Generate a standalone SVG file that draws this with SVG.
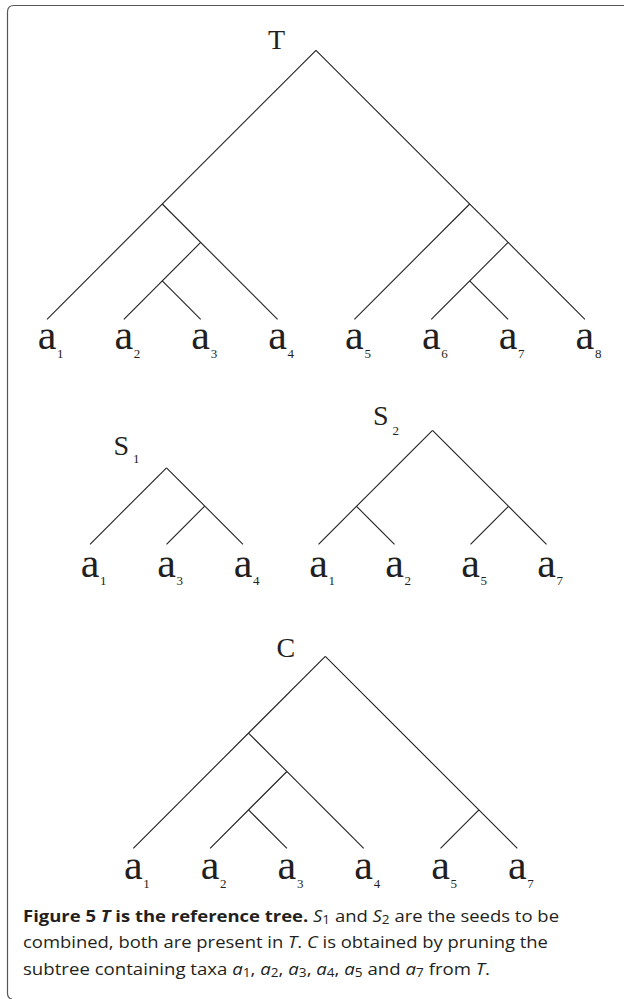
<svg xmlns="http://www.w3.org/2000/svg" width="624" height="999" viewBox="0 0 624 999">
<style>
.e{stroke:#231f20;stroke-width:1.1;fill:none;stroke-linecap:butt}
.lf{font-family:"Liberation Serif","Times New Roman",serif;font-size:42px;fill:#231f20;text-anchor:middle}
.sb{font-family:"Liberation Serif","Times New Roman",serif;font-size:13px;fill:#231f20}
.tl{font-family:"Liberation Serif","Times New Roman",serif;font-size:28px;fill:#231f20}
.cap{font-family:"Open Sans","Noto Sans","Liberation Sans",sans-serif;font-size:16.4px;fill:#231f20}
.b{font-weight:bold}
.i{font-style:italic}
.cs{font-size:12px}
</style>
<rect x="0" y="0" width="624" height="999" fill="#ffffff"/>
<g id="frame">
<path d="M624 5.5 H14 Q7.5 5.5 7.5 12 V993 Q7.5 998.5 12 999" fill="none" stroke="#555" stroke-width="1.2"/>
</g>
<g id="connectors">
<g id="edges-T">
<line class="e" x1="315.98" y1="50.3" x2="47" y2="319.3"/>
<line class="e" x1="315.98" y1="50.3" x2="584.95" y2="319.3"/>
<line class="e" x1="162.28" y1="204" x2="277.55" y2="319.3"/>
<line class="e" x1="200.7" y1="242.45" x2="123.85" y2="319.3"/>
<line class="e" x1="162.28" y1="280.88" x2="200.7" y2="319.3"/>
<line class="e" x1="469.68" y1="204" x2="354.4" y2="319.3"/>
<line class="e" x1="508.1" y1="242.45" x2="431.25" y2="319.3"/>
<line class="e" x1="469.68" y1="280.88" x2="508.1" y2="319.3"/>
</g>
<g id="edges-S1">
<line class="e" x1="166.5" y1="467.8" x2="90" y2="544.3"/>
<line class="e" x1="166.5" y1="467.8" x2="243" y2="544.3"/>
<line class="e" x1="204.75" y1="506.05" x2="166.5" y2="544.3"/>
</g>
<g id="edges-S2">
<line class="e" x1="432.5" y1="430.3" x2="318.5" y2="544.3"/>
<line class="e" x1="432.5" y1="430.3" x2="546.5" y2="544.3"/>
<line class="e" x1="356.5" y1="506.3" x2="394.5" y2="544.3"/>
<line class="e" x1="508.5" y1="506.3" x2="470.5" y2="544.3"/>
</g>
<g id="edges-C">
<line class="e" x1="325.3" y1="656.3" x2="133.3" y2="848.3"/>
<line class="e" x1="325.3" y1="656.3" x2="517.3" y2="848.3"/>
<line class="e" x1="248.5" y1="733.1" x2="363.7" y2="848.3"/>
<line class="e" x1="286.9" y1="771.5" x2="210.1" y2="848.3"/>
<line class="e" x1="248.5" y1="809.9" x2="286.9" y2="848.3"/>
<line class="e" x1="478.9" y1="809.9" x2="440.5" y2="848.3"/>
</g>
</g>
<g id="tree-T">
<g id="T-root"><text class="tl" x="268" y="49.3">T</text></g>
<g id="T-a1"><text class="lf" x="47" y="349">a</text><text class="sb" x="57" y="357.5">1</text></g>
<g id="T-a2"><text class="lf" x="123.85" y="349">a</text><text class="sb" x="133.85" y="357.5">2</text></g>
<g id="T-a3"><text class="lf" x="200.7" y="349">a</text><text class="sb" x="210.7" y="357.5">3</text></g>
<g id="T-a4"><text class="lf" x="277.55" y="349">a</text><text class="sb" x="287.55" y="357.5">4</text></g>
<g id="T-a5"><text class="lf" x="354.4" y="349">a</text><text class="sb" x="364.4" y="357.5">5</text></g>
<g id="T-a6"><text class="lf" x="431.25" y="349">a</text><text class="sb" x="441.25" y="357.5">6</text></g>
<g id="T-a7"><text class="lf" x="508.1" y="349">a</text><text class="sb" x="518.1" y="357.5">7</text></g>
<g id="T-a8"><text class="lf" x="584.95" y="349">a</text><text class="sb" x="594.95" y="357.5">8</text></g>
</g>
<g id="tree-S1">
<g id="S1-root"><text class="tl" x="113.5" y="455">S</text><text class="sb" x="133" y="463">1</text></g>
<g id="S1-a1"><text class="lf" x="90" y="576.5">a</text><text class="sb" x="100" y="585">1</text></g>
<g id="S1-a3"><text class="lf" x="166.5" y="576.5">a</text><text class="sb" x="176.5" y="585">3</text></g>
<g id="S1-a4"><text class="lf" x="243" y="576.5">a</text><text class="sb" x="253" y="585">4</text></g>
</g>
<g id="tree-S2">
<g id="S2-root"><text class="tl" x="373" y="425">S</text><text class="sb" x="392.5" y="434.5">2</text></g>
<g id="S2-a1"><text class="lf" x="318.5" y="576.5">a</text><text class="sb" x="328.5" y="585">1</text></g>
<g id="S2-a2"><text class="lf" x="394.5" y="576.5">a</text><text class="sb" x="404.5" y="585">2</text></g>
<g id="S2-a5"><text class="lf" x="470.5" y="576.5">a</text><text class="sb" x="480.5" y="585">5</text></g>
<g id="S2-a7"><text class="lf" x="546.5" y="576.5">a</text><text class="sb" x="556.5" y="585">7</text></g>
</g>
<g id="tree-C">
<g id="C-root"><text class="tl" x="276.5" y="656.5">C</text></g>
<g id="C-a1"><text class="lf" x="133.3" y="878.5">a</text><text class="sb" x="143.3" y="887.5">1</text></g>
<g id="C-a2"><text class="lf" x="210.1" y="878.5">a</text><text class="sb" x="220.1" y="887.5">2</text></g>
<g id="C-a3"><text class="lf" x="286.9" y="878.5">a</text><text class="sb" x="296.9" y="887.5">3</text></g>
<g id="C-a4"><text class="lf" x="363.7" y="878.5">a</text><text class="sb" x="373.7" y="887.5">4</text></g>
<g id="C-a5"><text class="lf" x="440.5" y="878.5">a</text><text class="sb" x="450.5" y="887.5">5</text></g>
<g id="C-a7"><text class="lf" x="517.3" y="878.5">a</text><text class="sb" x="527.3" y="887.5">7</text></g>
</g>
<g id="caption">
<text class="cap" x="23" y="921.5" textLength="536" lengthAdjust="spacingAndGlyphs"><tspan class="b">Figure 5 </tspan><tspan class="b i">T</tspan><tspan class="b"> is the reference tree.</tspan> <tspan class="i">S</tspan><tspan class="cs" dy="2">1</tspan><tspan dy="-2"> and </tspan><tspan class="i">S</tspan><tspan class="cs" dy="2">2</tspan><tspan dy="-2"> are the seeds to be</tspan></text>
<text class="cap" x="23" y="948.3" textLength="525" lengthAdjust="spacingAndGlyphs">combined, both are present in <tspan class="i">T</tspan>. <tspan class="i">C</tspan> is obtained by pruning the</text>
<text class="cap" x="23" y="975" textLength="467" lengthAdjust="spacingAndGlyphs">subtree containing taxa <tspan class="i">a</tspan><tspan class="cs" dy="2">1</tspan><tspan dy="-2">, </tspan><tspan class="i">a</tspan><tspan class="cs" dy="2">2</tspan><tspan dy="-2">, </tspan><tspan class="i">a</tspan><tspan class="cs" dy="2">3</tspan><tspan dy="-2">, </tspan><tspan class="i">a</tspan><tspan class="cs" dy="2">4</tspan><tspan dy="-2">, </tspan><tspan class="i">a</tspan><tspan class="cs" dy="2">5</tspan><tspan dy="-2"> and </tspan><tspan class="i">a</tspan><tspan class="cs" dy="2">7</tspan><tspan dy="-2"> from </tspan><tspan class="i">T</tspan>.</text>
</g>
</svg>
